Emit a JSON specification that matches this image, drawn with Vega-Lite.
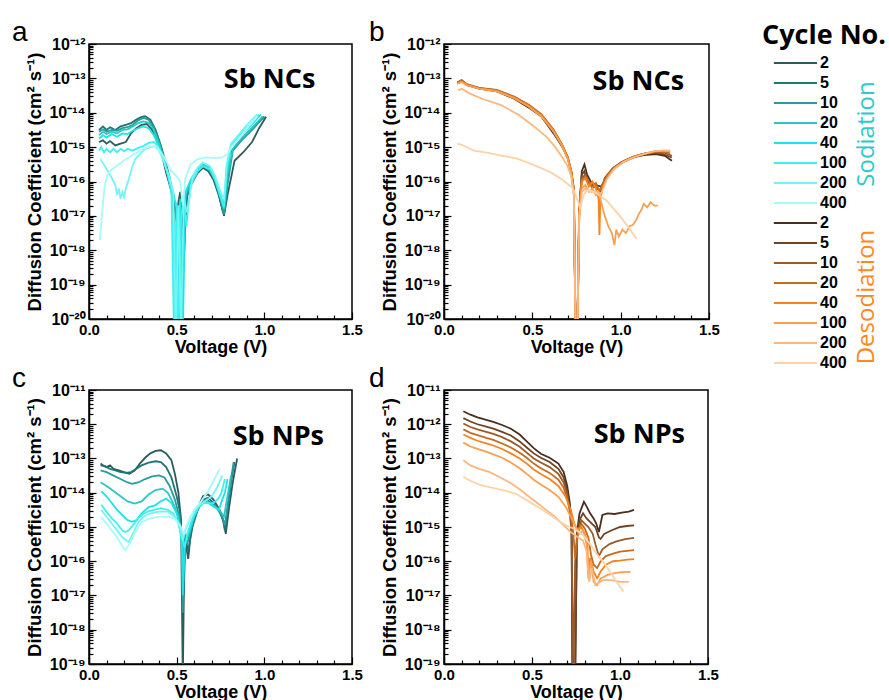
{
"$schema": "https://vega.github.io/schema/vega-lite/v6.json",
"background": "white",
"padding": {"left": 11, "top": 18, "right": 0, "bottom": 0},
"config": {
 "view": {"stroke": "#000", "strokeWidth": 1.5},
 "axis": {"labelFont": "Liberation Sans", "labelFontWeight": "bold", "labelFontSize": 15, "labelColor": "#000", "titleFont": "Liberation Sans", "titleFontWeight": "bold", "titleColor": "#000", "titleFontSize": 18, "tickColor": "#000", "tickWidth": 1.2, "domainColor": "#000", "domainWidth": 1.5, "grid": false, "labelOverlap": false},
 "axisX": {"labelPadding": 10, "titlePadding": -2, "labelFlush": false},
 "axisY": {"labelPadding": 11, "titlePadding": 4, "labelFontSize": 16, "titleFontSize": 18.5},
 "title": {"font": "Liberation Sans", "fontSize": 28, "fontWeight": "normal", "anchor": "start", "frame": "group", "color": "#000", "baseline": "alphabetic", "offset": 3, "dy": 14}
},
"datasets": {
 "a": [
  {"s":"S2","v":0.057,"d":1.41e-15},{"s":"S2","v":0.08,"d":1.58e-15},{"s":"S2","v":0.10,"d":1.26e-15},{"s":"S2","v":0.12,"d":1.5e-15},{"s":"S2","v":0.15,"d":1.12e-15},{"s":"S2","v":0.18,"d":1.26e-15},{"s":"S2","v":0.21,"d":1.41e-15},{"s":"S2","v":0.24,"d":2.51e-15},{"s":"S2","v":0.27,"d":3.55e-15},{"s":"S2","v":0.30,"d":4.47e-15},{"s":"S2","v":0.33,"d":4.7e-15},{"s":"S2","v":0.36,"d":3.16e-15},{"s":"S2","v":0.39,"d":1.41e-15},{"s":"S2","v":0.42,"d":5.0e-16},{"s":"S2","v":0.44,"d":1.78e-16},{"s":"S2","v":0.46,"d":7.9e-17},{"s":"S2","v":0.48,"d":3.16e-17},{"s":"S2","v":0.50,"d":1.26e-17},{"s":"S2","v":0.52,"d":5.0e-17},{"s":"S2","v":0.54,"d":3.16e-19},{"s":"S2","v":0.555,"d":3.16e-17},{"s":"S2","v":0.58,"d":7.9e-17},{"s":"S2","v":0.62,"d":1.78e-16},{"s":"S2","v":0.65,"d":2.51e-16},{"s":"S2","v":0.68,"d":2.0e-16},{"s":"S2","v":0.71,"d":1.12e-16},{"s":"S2","v":0.74,"d":4.0e-17},{"s":"S2","v":0.77,"d":1.0e-17},{"s":"S2","v":0.79,"d":4.0e-17},{"s":"S2","v":0.83,"d":4.0e-16},{"s":"S2","v":0.88,"d":7.1e-16},{"s":"S2","v":0.93,"d":1.41e-15},{"s":"S2","v":0.97,"d":3.55e-15},{"s":"S2","v":1.01,"d":7.6e-15},
  {"s":"S5","v":0.057,"d":3.16e-15},{"s":"S5","v":0.08,"d":4.0e-15},{"s":"S5","v":0.10,"d":3.16e-15},{"s":"S5","v":0.12,"d":3.8e-15},{"s":"S5","v":0.15,"d":3.16e-15},{"s":"S5","v":0.18,"d":4.0e-15},{"s":"S5","v":0.21,"d":4.47e-15},{"s":"S5","v":0.24,"d":5.0e-15},{"s":"S5","v":0.27,"d":6.3e-15},{"s":"S5","v":0.30,"d":7.6e-15},{"s":"S5","v":0.32,"d":7.9e-15},{"s":"S5","v":0.35,"d":6.3e-15},{"s":"S5","v":0.38,"d":3.16e-15},{"s":"S5","v":0.41,"d":1.12e-15},{"s":"S5","v":0.44,"d":3.16e-16},{"s":"S5","v":0.46,"d":1.26e-16},{"s":"S5","v":0.48,"d":4.0e-17},{"s":"S5","v":0.50,"d":6.3e-18},{"s":"S5","v":0.51,"d":3.16e-21},{"s":"S5","v":0.525,"d":2.51e-17},{"s":"S5","v":0.54,"d":1.58e-18},{"s":"S5","v":0.56,"d":4.0e-17},{"s":"S5","v":0.59,"d":1.0e-16},{"s":"S5","v":0.62,"d":2.0e-16},{"s":"S5","v":0.65,"d":2.8e-16},{"s":"S5","v":0.68,"d":2.24e-16},{"s":"S5","v":0.71,"d":1.26e-16},{"s":"S5","v":0.74,"d":4.47e-17},{"s":"S5","v":0.765,"d":1.26e-17},{"s":"S5","v":0.78,"d":2.51e-17},{"s":"S5","v":0.80,"d":6.3e-16},{"s":"S5","v":0.84,"d":1.12e-15},{"s":"S5","v":0.89,"d":2.24e-15},{"s":"S5","v":0.95,"d":4.47e-15},{"s":"S5","v":1.0,"d":7.6e-15},
  {"s":"S10","v":0.057,"d":2.8e-15},{"s":"S10","v":0.08,"d":3.3e-15},{"s":"S10","v":0.10,"d":2.8e-15},{"s":"S10","v":0.13,"d":3.16e-15},{"s":"S10","v":0.16,"d":3.0e-15},{"s":"S10","v":0.19,"d":3.55e-15},{"s":"S10","v":0.22,"d":3.8e-15},{"s":"S10","v":0.25,"d":4.47e-15},{"s":"S10","v":0.28,"d":6.0e-15},{"s":"S10","v":0.31,"d":7.1e-15},{"s":"S10","v":0.34,"d":6.3e-15},{"s":"S10","v":0.37,"d":3.55e-15},{"s":"S10","v":0.40,"d":1.41e-15},{"s":"S10","v":0.43,"d":4.47e-16},{"s":"S10","v":0.46,"d":1.12e-16},{"s":"S10","v":0.48,"d":3.16e-17},{"s":"S10","v":0.495,"d":3.16e-21},{"s":"S10","v":0.51,"d":1.58e-17},{"s":"S10","v":0.53,"d":6.3e-19},{"s":"S10","v":0.55,"d":3.16e-17},{"s":"S10","v":0.58,"d":8.9e-17},{"s":"S10","v":0.62,"d":2.0e-16},{"s":"S10","v":0.65,"d":2.8e-16},{"s":"S10","v":0.69,"d":2.0e-16},{"s":"S10","v":0.72,"d":1.0e-16},{"s":"S10","v":0.75,"d":3.16e-17},{"s":"S10","v":0.77,"d":1.12e-17},{"s":"S10","v":0.79,"d":7.9e-17},{"s":"S10","v":0.82,"d":7.9e-16},{"s":"S10","v":0.87,"d":1.58e-15},{"s":"S10","v":0.93,"d":3.16e-15},{"s":"S10","v":1.0,"d":7.9e-15},
  {"s":"S20","v":0.057,"d":2.24e-15},{"s":"S20","v":0.08,"d":2.8e-15},{"s":"S20","v":0.10,"d":2.4e-15},{"s":"S20","v":0.13,"d":2.8e-15},{"s":"S20","v":0.16,"d":2.51e-15},{"s":"S20","v":0.19,"d":3.16e-15},{"s":"S20","v":0.22,"d":3.3e-15},{"s":"S20","v":0.25,"d":4.0e-15},{"s":"S20","v":0.28,"d":5.0e-15},{"s":"S20","v":0.31,"d":5.6e-15},{"s":"S20","v":0.34,"d":5.2e-15},{"s":"S20","v":0.37,"d":3.16e-15},{"s":"S20","v":0.40,"d":1.26e-15},{"s":"S20","v":0.43,"d":4.0e-16},{"s":"S20","v":0.46,"d":1.0e-16},{"s":"S20","v":0.48,"d":2.51e-17},{"s":"S20","v":0.50,"d":3.16e-21},{"s":"S20","v":0.515,"d":1.0e-17},{"s":"S20","v":0.53,"d":1.0e-19},{"s":"S20","v":0.55,"d":4.0e-17},{"s":"S20","v":0.58,"d":1.0e-16},{"s":"S20","v":0.62,"d":2.24e-16},{"s":"S20","v":0.65,"d":3.16e-16},{"s":"S20","v":0.69,"d":2.24e-16},{"s":"S20","v":0.72,"d":1.12e-16},{"s":"S20","v":0.75,"d":3.55e-17},{"s":"S20","v":0.77,"d":1.58e-17},{"s":"S20","v":0.79,"d":1.58e-16},{"s":"S20","v":0.82,"d":8.9e-16},{"s":"S20","v":0.87,"d":1.78e-15},{"s":"S20","v":0.93,"d":3.55e-15},{"s":"S20","v":0.99,"d":7.9e-15},
  {"s":"S40","v":0.057,"d":1.78e-15},{"s":"S40","v":0.08,"d":2.24e-15},{"s":"S40","v":0.10,"d":1.9e-15},{"s":"S40","v":0.13,"d":2.4e-15},{"s":"S40","v":0.16,"d":2.0e-15},{"s":"S40","v":0.19,"d":2.51e-15},{"s":"S40","v":0.22,"d":2.4e-15},{"s":"S40","v":0.25,"d":3.0e-15},{"s":"S40","v":0.28,"d":3.55e-15},{"s":"S40","v":0.31,"d":4.0e-15},{"s":"S40","v":0.34,"d":3.55e-15},{"s":"S40","v":0.37,"d":2.24e-15},{"s":"S40","v":0.40,"d":1.0e-15},{"s":"S40","v":0.43,"d":3.55e-16},{"s":"S40","v":0.46,"d":1.0e-16},{"s":"S40","v":0.48,"d":5.0e-17},{"s":"S40","v":0.50,"d":1.58e-17},{"s":"S40","v":0.505,"d":3.16e-21},{"s":"S40","v":0.52,"d":3.16e-17},{"s":"S40","v":0.535,"d":3.16e-21},{"s":"S40","v":0.55,"d":5.0e-17},{"s":"S40","v":0.58,"d":1.12e-16},{"s":"S40","v":0.62,"d":2.51e-16},{"s":"S40","v":0.65,"d":3.55e-16},{"s":"S40","v":0.69,"d":2.51e-16},{"s":"S40","v":0.72,"d":1.26e-16},{"s":"S40","v":0.75,"d":4.0e-17},{"s":"S40","v":0.77,"d":2.0e-17},{"s":"S40","v":0.785,"d":1.58e-16},{"s":"S40","v":0.81,"d":1.0e-15},{"s":"S40","v":0.86,"d":2.0e-15},{"s":"S40","v":0.92,"d":4.0e-15},{"s":"S40","v":0.98,"d":8.9e-15},
  {"s":"S100","v":0.057,"d":7.9e-16},{"s":"S100","v":0.07,"d":1.0e-15},{"s":"S100","v":0.085,"d":7.1e-16},{"s":"S100","v":0.10,"d":8.9e-16},{"s":"S100","v":0.12,"d":7.1e-16},{"s":"S100","v":0.14,"d":8.9e-16},{"s":"S100","v":0.16,"d":7.1e-16},{"s":"S100","v":0.18,"d":8.9e-16},{"s":"S100","v":0.20,"d":7.6e-16},{"s":"S100","v":0.22,"d":8.9e-16},{"s":"S100","v":0.25,"d":7.9e-16},{"s":"S100","v":0.28,"d":9.5e-16},{"s":"S100","v":0.31,"d":1.07e-15},{"s":"S100","v":0.34,"d":1.32e-15},{"s":"S100","v":0.37,"d":1.41e-15},{"s":"S100","v":0.39,"d":1.12e-15},{"s":"S100","v":0.42,"d":5.0e-16},{"s":"S100","v":0.45,"d":1.58e-16},{"s":"S100","v":0.47,"d":5.0e-17},{"s":"S100","v":0.485,"d":3.16e-21},{"s":"S100","v":0.50,"d":2.51e-17},{"s":"S100","v":0.51,"d":3.16e-21},{"s":"S100","v":0.525,"d":7.9e-18},{"s":"S100","v":0.54,"d":4.0e-17},{"s":"S100","v":0.555,"d":5.0e-18},{"s":"S100","v":0.58,"d":7.9e-17},{"s":"S100","v":0.62,"d":2.0e-16},{"s":"S100","v":0.65,"d":2.8e-16},{"s":"S100","v":0.69,"d":2.24e-16},{"s":"S100","v":0.72,"d":1.12e-16},{"s":"S100","v":0.75,"d":3.55e-17},{"s":"S100","v":0.77,"d":1.78e-17},{"s":"S100","v":0.785,"d":2.51e-16},{"s":"S100","v":0.81,"d":1.12e-15},{"s":"S100","v":0.86,"d":2.24e-15},{"s":"S100","v":0.92,"d":4.47e-15},{"s":"S100","v":0.97,"d":8.9e-15},
  {"s":"S200","v":0.066,"d":4.47e-16},{"s":"S200","v":0.09,"d":2.8e-16},{"s":"S200","v":0.113,"d":1.78e-16},{"s":"S200","v":0.13,"d":1.26e-16},{"s":"S200","v":0.15,"d":7.9e-17},{"s":"S200","v":0.16,"d":4.0e-17},{"s":"S200","v":0.17,"d":6.3e-17},{"s":"S200","v":0.18,"d":3.16e-17},{"s":"S200","v":0.19,"d":5.0e-17},{"s":"S200","v":0.20,"d":3.55e-17},{"s":"S200","v":0.21,"d":6.3e-17},{"s":"S200","v":0.226,"d":1.12e-16},{"s":"S200","v":0.245,"d":2.51e-16},{"s":"S200","v":0.264,"d":4.5e-16},{"s":"S200","v":0.29,"d":6.3e-16},{"s":"S200","v":0.32,"d":8.9e-16},{"s":"S200","v":0.35,"d":1.0e-15},{"s":"S200","v":0.377,"d":1.07e-15},{"s":"S200","v":0.40,"d":7.9e-16},{"s":"S200","v":0.43,"d":3.55e-16},{"s":"S200","v":0.46,"d":1.26e-16},{"s":"S200","v":0.48,"d":5.0e-17},{"s":"S200","v":0.495,"d":3.16e-21},{"s":"S200","v":0.51,"d":2.0e-17},{"s":"S200","v":0.525,"d":3.16e-21},{"s":"S200","v":0.54,"d":3.16e-17},{"s":"S200","v":0.56,"d":1.26e-17},{"s":"S200","v":0.59,"d":1.26e-16},{"s":"S200","v":0.62,"d":2.51e-16},{"s":"S200","v":0.65,"d":3.55e-16},{"s":"S200","v":0.69,"d":2.8e-16},{"s":"S200","v":0.72,"d":1.41e-16},{"s":"S200","v":0.75,"d":5.0e-17},{"s":"S200","v":0.77,"d":3.16e-17},{"s":"S200","v":0.785,"d":3.16e-16},{"s":"S200","v":0.81,"d":1.26e-15},{"s":"S200","v":0.86,"d":2.51e-15},{"s":"S200","v":0.91,"d":5.0e-15},{"s":"S200","v":0.96,"d":8.9e-15},
  {"s":"S400","v":0.062,"d":2.0e-18},{"s":"S400","v":0.07,"d":6.3e-18},{"s":"S400","v":0.08,"d":2.51e-17},{"s":"S400","v":0.09,"d":7.9e-17},{"s":"S400","v":0.105,"d":1.58e-16},{"s":"S400","v":0.13,"d":2.24e-16},{"s":"S400","v":0.17,"d":3.16e-16},{"s":"S400","v":0.21,"d":4.47e-16},{"s":"S400","v":0.26,"d":6.3e-16},{"s":"S400","v":0.31,"d":8.9e-16},{"s":"S400","v":0.35,"d":1.07e-15},{"s":"S400","v":0.39,"d":1.0e-15},{"s":"S400","v":0.43,"d":5.0e-16},{"s":"S400","v":0.47,"d":2.0e-16},{"s":"S400","v":0.50,"d":1.41e-16},{"s":"S400","v":0.52,"d":1.0e-16},{"s":"S400","v":0.535,"d":2.0e-17},{"s":"S400","v":0.55,"d":1.26e-16},{"s":"S400","v":0.58,"d":3.16e-16},{"s":"S400","v":0.62,"d":4.47e-16},{"s":"S400","v":0.67,"d":5.0e-16},{"s":"S400","v":0.72,"d":4.8e-16},{"s":"S400","v":0.76,"d":5.0e-16},{"s":"S400","v":0.79,"d":6.3e-16},{"s":"S400","v":0.82,"d":1.12e-15},{"s":"S400","v":0.87,"d":2.24e-15},{"s":"S400","v":0.92,"d":4.47e-15},{"s":"S400","v":0.96,"d":7.9e-15}
 ],
 "b": [
  {"s":"D2","v":0.075,"d":7.1e-14},{"s":"D2","v":0.10,"d":8.3e-14},{"s":"D2","v":0.13,"d":6.3e-14},{"s":"D2","v":0.20,"d":5.0e-14},{"s":"D2","v":0.30,"d":4.2e-14},{"s":"D2","v":0.40,"d":2.51e-14},{"s":"D2","v":0.48,"d":1.41e-14},{"s":"D2","v":0.55,"d":7.9e-15},{"s":"D2","v":0.62,"d":2.51e-15},{"s":"D2","v":0.67,"d":1.0e-15},{"s":"D2","v":0.70,"d":5.0e-16},{"s":"D2","v":0.72,"d":2.0e-16},{"s":"D2","v":0.735,"d":6.3e-17},{"s":"D2","v":0.745,"d":3.16e-21},{"s":"D2","v":0.755,"d":3.16e-21},{"s":"D2","v":0.765,"d":1.0e-17},{"s":"D2","v":0.78,"d":2.0e-16},{"s":"D2","v":0.795,"d":3.16e-16},{"s":"D2","v":0.81,"d":1.58e-16},{"s":"D2","v":0.83,"d":1.0e-16},{"s":"D2","v":0.86,"d":7.9e-17},{"s":"D2","v":0.89,"d":7.1e-17},{"s":"D2","v":0.92,"d":1.41e-16},{"s":"D2","v":0.96,"d":2.51e-16},{"s":"D2","v":1.01,"d":3.7e-16},{"s":"D2","v":1.07,"d":5.0e-16},{"s":"D2","v":1.13,"d":5.9e-16},{"s":"D2","v":1.2,"d":6.3e-16},{"s":"D2","v":1.25,"d":5.6e-16},{"s":"D2","v":1.29,"d":4.0e-16},
  {"s":"D5","v":0.075,"d":7.6e-14},{"s":"D5","v":0.10,"d":8.9e-14},{"s":"D5","v":0.13,"d":6.6e-14},{"s":"D5","v":0.20,"d":5.2e-14},{"s":"D5","v":0.30,"d":4.47e-14},{"s":"D5","v":0.40,"d":2.8e-14},{"s":"D5","v":0.48,"d":1.66e-14},{"s":"D5","v":0.55,"d":8.9e-15},{"s":"D5","v":0.62,"d":3.16e-15},{"s":"D5","v":0.67,"d":1.12e-15},{"s":"D5","v":0.70,"d":5.0e-16},{"s":"D5","v":0.72,"d":2.0e-16},{"s":"D5","v":0.735,"d":5.0e-17},{"s":"D5","v":0.745,"d":3.16e-21},{"s":"D5","v":0.755,"d":3.16e-21},{"s":"D5","v":0.765,"d":1.58e-17},{"s":"D5","v":0.78,"d":1.58e-16},{"s":"D5","v":0.795,"d":2.0e-16},{"s":"D5","v":0.81,"d":1.0e-16},{"s":"D5","v":0.84,"d":7.9e-17},{"s":"D5","v":0.87,"d":6.3e-17},{"s":"D5","v":0.89,"d":5.0e-17},{"s":"D5","v":0.91,"d":1.26e-16},{"s":"D5","v":0.95,"d":2.24e-16},{"s":"D5","v":1.0,"d":3.55e-16},{"s":"D5","v":1.06,"d":5.0e-16},{"s":"D5","v":1.12,"d":6.3e-16},{"s":"D5","v":1.18,"d":7.1e-16},{"s":"D5","v":1.24,"d":6.3e-16},{"s":"D5","v":1.29,"d":5.0e-16},
  {"s":"D10","v":0.075,"d":7.2e-14},{"s":"D10","v":0.10,"d":8.5e-14},{"s":"D10","v":0.13,"d":6.5e-14},{"s":"D10","v":0.20,"d":5.1e-14},{"s":"D10","v":0.30,"d":4.4e-14},{"s":"D10","v":0.40,"d":2.75e-14},{"s":"D10","v":0.48,"d":1.58e-14},{"s":"D10","v":0.55,"d":8.3e-15},{"s":"D10","v":0.62,"d":3.0e-15},{"s":"D10","v":0.67,"d":1.07e-15},{"s":"D10","v":0.70,"d":4.8e-16},{"s":"D10","v":0.72,"d":1.9e-16},{"s":"D10","v":0.735,"d":5.0e-17},{"s":"D10","v":0.745,"d":3.16e-21},{"s":"D10","v":0.755,"d":3.16e-21},{"s":"D10","v":0.765,"d":1.26e-17},{"s":"D10","v":0.78,"d":1.26e-16},{"s":"D10","v":0.80,"d":1.58e-16},{"s":"D10","v":0.82,"d":8.9e-17},{"s":"D10","v":0.85,"d":7.1e-17},{"s":"D10","v":0.88,"d":5.6e-17},{"s":"D10","v":0.90,"d":7.9e-17},{"s":"D10","v":0.93,"d":1.58e-16},{"s":"D10","v":0.97,"d":2.51e-16},{"s":"D10","v":1.02,"d":3.8e-16},{"s":"D10","v":1.08,"d":5.2e-16},{"s":"D10","v":1.14,"d":6.3e-16},{"s":"D10","v":1.2,"d":7.1e-16},{"s":"D10","v":1.25,"d":6.8e-16},{"s":"D10","v":1.29,"d":5.6e-16},
  {"s":"D20","v":0.075,"d":7.4e-14},{"s":"D20","v":0.10,"d":8.7e-14},{"s":"D20","v":0.13,"d":6.8e-14},{"s":"D20","v":0.20,"d":5.3e-14},{"s":"D20","v":0.30,"d":4.6e-14},{"s":"D20","v":0.40,"d":2.9e-14},{"s":"D20","v":0.48,"d":1.7e-14},{"s":"D20","v":0.55,"d":9.1e-15},{"s":"D20","v":0.62,"d":3.2e-15},{"s":"D20","v":0.67,"d":1.15e-15},{"s":"D20","v":0.70,"d":5.2e-16},{"s":"D20","v":0.72,"d":2.1e-16},{"s":"D20","v":0.735,"d":5.6e-17},{"s":"D20","v":0.745,"d":3.16e-21},{"s":"D20","v":0.755,"d":3.16e-21},{"s":"D20","v":0.765,"d":1.4e-17},{"s":"D20","v":0.78,"d":1.1e-16},{"s":"D20","v":0.80,"d":1.4e-16},{"s":"D20","v":0.82,"d":1.0e-16},{"s":"D20","v":0.84,"d":6.3e-17},{"s":"D20","v":0.86,"d":8.9e-17},{"s":"D20","v":0.88,"d":5.0e-17},{"s":"D20","v":0.90,"d":8.9e-17},{"s":"D20","v":0.93,"d":1.7e-16},{"s":"D20","v":0.97,"d":2.7e-16},{"s":"D20","v":1.02,"d":4.0e-16},{"s":"D20","v":1.08,"d":5.5e-16},{"s":"D20","v":1.14,"d":6.6e-16},{"s":"D20","v":1.2,"d":7.4e-16},{"s":"D20","v":1.25,"d":7.2e-16},{"s":"D20","v":1.28,"d":6.6e-16},
  {"s":"D40","v":0.075,"d":7.0e-14},{"s":"D40","v":0.10,"d":8.1e-14},{"s":"D40","v":0.13,"d":6.4e-14},{"s":"D40","v":0.20,"d":5.0e-14},{"s":"D40","v":0.30,"d":4.3e-14},{"s":"D40","v":0.40,"d":2.7e-14},{"s":"D40","v":0.48,"d":1.6e-14},{"s":"D40","v":0.55,"d":8.5e-15},{"s":"D40","v":0.62,"d":3.0e-15},{"s":"D40","v":0.67,"d":1.1e-15},{"s":"D40","v":0.70,"d":5.0e-16},{"s":"D40","v":0.72,"d":2.0e-16},{"s":"D40","v":0.735,"d":5.0e-17},{"s":"D40","v":0.745,"d":3.16e-21},{"s":"D40","v":0.755,"d":3.16e-21},{"s":"D40","v":0.765,"d":1.2e-17},{"s":"D40","v":0.78,"d":1.0e-16},{"s":"D40","v":0.80,"d":1.26e-16},{"s":"D40","v":0.82,"d":7.1e-17},{"s":"D40","v":0.84,"d":1.0e-16},{"s":"D40","v":0.86,"d":6.3e-17},{"s":"D40","v":0.875,"d":3.16e-17},{"s":"D40","v":0.88,"d":2.8e-18},{"s":"D40","v":0.885,"d":3.16e-17},{"s":"D40","v":0.90,"d":7.1e-17},{"s":"D40","v":0.93,"d":1.5e-16},{"s":"D40","v":0.97,"d":2.6e-16},{"s":"D40","v":1.02,"d":3.9e-16},{"s":"D40","v":1.08,"d":5.4e-16},{"s":"D40","v":1.14,"d":6.5e-16},{"s":"D40","v":1.2,"d":7.6e-16},{"s":"D40","v":1.25,"d":7.9e-16},{"s":"D40","v":1.28,"d":7.6e-16},
  {"s":"D100","v":0.075,"d":7.1e-14},{"s":"D100","v":0.10,"d":7.9e-14},{"s":"D100","v":0.13,"d":6.3e-14},{"s":"D100","v":0.20,"d":5.0e-14},{"s":"D100","v":0.30,"d":4.2e-14},{"s":"D100","v":0.40,"d":2.6e-14},{"s":"D100","v":0.48,"d":1.5e-14},{"s":"D100","v":0.55,"d":7.9e-15},{"s":"D100","v":0.62,"d":2.8e-15},{"s":"D100","v":0.67,"d":1.05e-15},{"s":"D100","v":0.70,"d":4.47e-16},{"s":"D100","v":0.72,"d":1.78e-16},{"s":"D100","v":0.735,"d":4.0e-17},{"s":"D100","v":0.745,"d":3.16e-21},{"s":"D100","v":0.755,"d":3.16e-21},{"s":"D100","v":0.765,"d":6.3e-18},{"s":"D100","v":0.78,"d":6.3e-17},{"s":"D100","v":0.80,"d":7.9e-17},{"s":"D100","v":0.82,"d":5.0e-17},{"s":"D100","v":0.84,"d":6.3e-17},{"s":"D100","v":0.86,"d":4.0e-17},{"s":"D100","v":0.875,"d":5.0e-17},{"s":"D100","v":0.89,"d":2.51e-17},{"s":"D100","v":0.91,"d":1.0e-17},{"s":"D100","v":0.93,"d":5.0e-18},{"s":"D100","v":0.95,"d":3.16e-18},{"s":"D100","v":0.965,"d":1.41e-18},{"s":"D100","v":0.975,"d":4.0e-18},{"s":"D100","v":0.99,"d":2.51e-18},{"s":"D100","v":1.01,"d":4.0e-18},{"s":"D100","v":1.03,"d":3.16e-18},{"s":"D100","v":1.05,"d":5.0e-18},{"s":"D100","v":1.07,"d":5.5e-18},{"s":"D100","v":1.09,"d":7.9e-18},{"s":"D100","v":1.1,"d":1.07e-17},{"s":"D100","v":1.12,"d":1.58e-17},{"s":"D100","v":1.13,"d":2.24e-17},{"s":"D100","v":1.15,"d":1.78e-17},{"s":"D100","v":1.17,"d":2.51e-17},{"s":"D100","v":1.19,"d":2.0e-17},{"s":"D100","v":1.21,"d":2.0e-17},
  {"s":"D200","v":0.08,"d":4.47e-14},{"s":"D200","v":0.10,"d":5.0e-14},{"s":"D200","v":0.15,"d":3.55e-14},{"s":"D200","v":0.22,"d":2.51e-14},{"s":"D200","v":0.32,"d":1.7e-14},{"s":"D200","v":0.42,"d":8.9e-15},{"s":"D200","v":0.51,"d":4.0e-15},{"s":"D200","v":0.58,"d":2.0e-15},{"s":"D200","v":0.63,"d":1.0e-15},{"s":"D200","v":0.67,"d":5.0e-16},{"s":"D200","v":0.70,"d":2.8e-16},{"s":"D200","v":0.72,"d":1.41e-16},{"s":"D200","v":0.735,"d":4.0e-17},{"s":"D200","v":0.745,"d":3.16e-21},{"s":"D200","v":0.755,"d":3.16e-21},{"s":"D200","v":0.765,"d":1.0e-17},{"s":"D200","v":0.78,"d":5.0e-17},{"s":"D200","v":0.80,"d":6.3e-17},{"s":"D200","v":0.83,"d":5.0e-17},{"s":"D200","v":0.86,"d":5.0e-17},{"s":"D200","v":0.89,"d":4.47e-17},{"s":"D200","v":0.92,"d":1.12e-16},{"s":"D200","v":0.96,"d":2.24e-16},{"s":"D200","v":1.01,"d":3.55e-16},{"s":"D200","v":1.07,"d":5.0e-16},{"s":"D200","v":1.13,"d":6.3e-16},{"s":"D200","v":1.19,"d":7.6e-16},{"s":"D200","v":1.24,"d":7.9e-16},{"s":"D200","v":1.28,"d":7.9e-16},
  {"s":"D400","v":0.075,"d":1.26e-15},{"s":"D400","v":0.10,"d":1.17e-15},{"s":"D400","v":0.17,"d":7.9e-16},{"s":"D400","v":0.25,"d":6.8e-16},{"s":"D400","v":0.33,"d":5.6e-16},{"s":"D400","v":0.41,"d":4.7e-16},{"s":"D400","v":0.5,"d":3.16e-16},{"s":"D400","v":0.6,"d":1.9e-16},{"s":"D400","v":0.67,"d":1.12e-16},{"s":"D400","v":0.73,"d":6.3e-17},{"s":"D400","v":0.76,"d":2.51e-17},{"s":"D400","v":0.77,"d":1.58e-17},{"s":"D400","v":0.79,"d":4.0e-17},{"s":"D400","v":0.81,"d":5.6e-17},{"s":"D400","v":0.85,"d":5.0e-17},{"s":"D400","v":0.92,"d":2.8e-17},{"s":"D400","v":0.99,"d":1.07e-17},{"s":"D400","v":1.04,"d":5.0e-18},{"s":"D400","v":1.09,"d":2.14e-18}
 ],
 "c": [
  {"s":"S2","v":0.066,"d":7.1e-14},{"s":"S2","v":0.08,"d":6.3e-14},{"s":"S2","v":0.10,"d":5.6e-14},{"s":"S2","v":0.12,"d":6.3e-14},{"s":"S2","v":0.14,"d":5.0e-14},{"s":"S2","v":0.17,"d":4.47e-14},{"s":"S2","v":0.20,"d":4.0e-14},{"s":"S2","v":0.23,"d":3.6e-14},{"s":"S2","v":0.26,"d":4.47e-14},{"s":"S2","v":0.29,"d":7.1e-14},{"s":"S2","v":0.32,"d":1.05e-13},{"s":"S2","v":0.35,"d":1.41e-13},{"s":"S2","v":0.38,"d":1.66e-13},{"s":"S2","v":0.41,"d":1.74e-13},{"s":"S2","v":0.44,"d":1.41e-13},{"s":"S2","v":0.47,"d":8.9e-14},{"s":"S2","v":0.49,"d":3.55e-14},{"s":"S2","v":0.51,"d":1.0e-14},{"s":"S2","v":0.525,"d":1.58e-15},{"s":"S2","v":0.535,"d":3.16e-20},{"s":"S2","v":0.545,"d":6.3e-16},{"s":"S2","v":0.555,"d":2.51e-16},{"s":"S2","v":0.566,"d":1.17e-16},{"s":"S2","v":0.58,"d":6.3e-16},{"s":"S2","v":0.60,"d":2.0e-15},{"s":"S2","v":0.62,"d":3.55e-15},{"s":"S2","v":0.65,"d":7.9e-15},{"s":"S2","v":0.68,"d":8.9e-15},{"s":"S2","v":0.71,"d":6.3e-15},{"s":"S2","v":0.745,"d":3.16e-15},{"s":"S2","v":0.77,"d":1.26e-15},{"s":"S2","v":0.78,"d":6.3e-16},{"s":"S2","v":0.80,"d":4.0e-15},{"s":"S2","v":0.82,"d":2.0e-14},{"s":"S2","v":0.845,"d":1.0e-13},
  {"s":"S5","v":0.066,"d":6.3e-14},{"s":"S5","v":0.09,"d":6.0e-14},{"s":"S5","v":0.12,"d":5.0e-14},{"s":"S5","v":0.15,"d":4.47e-14},{"s":"S5","v":0.18,"d":4.0e-14},{"s":"S5","v":0.21,"d":3.8e-14},{"s":"S5","v":0.24,"d":4.0e-14},{"s":"S5","v":0.27,"d":5.0e-14},{"s":"S5","v":0.30,"d":6.3e-14},{"s":"S5","v":0.34,"d":7.6e-14},{"s":"S5","v":0.38,"d":8.3e-14},{"s":"S5","v":0.41,"d":7.9e-14},{"s":"S5","v":0.44,"d":5.6e-14},{"s":"S5","v":0.47,"d":2.8e-14},{"s":"S5","v":0.50,"d":7.9e-15},{"s":"S5","v":0.52,"d":2.51e-15},{"s":"S5","v":0.53,"d":4.0e-16},{"s":"S5","v":0.54,"d":1.0e-17},{"s":"S5","v":0.55,"d":5.0e-16},{"s":"S5","v":0.565,"d":2.0e-16},{"s":"S5","v":0.59,"d":1.0e-15},{"s":"S5","v":0.62,"d":3.16e-15},{"s":"S5","v":0.65,"d":6.3e-15},{"s":"S5","v":0.68,"d":7.1e-15},{"s":"S5","v":0.71,"d":5.0e-15},{"s":"S5","v":0.74,"d":3.16e-15},{"s":"S5","v":0.765,"d":1.58e-15},{"s":"S5","v":0.775,"d":7.9e-16},{"s":"S5","v":0.79,"d":3.16e-15},{"s":"S5","v":0.81,"d":2.0e-14},{"s":"S5","v":0.83,"d":7.9e-14},
  {"s":"S10","v":0.066,"d":4.47e-14},{"s":"S10","v":0.10,"d":4.0e-14},{"s":"S10","v":0.14,"d":3.16e-14},{"s":"S10","v":0.18,"d":2.51e-14},{"s":"S10","v":0.22,"d":2.0e-14},{"s":"S10","v":0.245,"d":1.82e-14},{"s":"S10","v":0.28,"d":2.0e-14},{"s":"S10","v":0.32,"d":2.51e-14},{"s":"S10","v":0.36,"d":3.0e-14},{"s":"S10","v":0.40,"d":3.2e-14},{"s":"S10","v":0.43,"d":2.8e-14},{"s":"S10","v":0.46,"d":1.58e-14},{"s":"S10","v":0.49,"d":6.3e-15},{"s":"S10","v":0.515,"d":2.0e-15},{"s":"S10","v":0.53,"d":5.0e-16},{"s":"S10","v":0.535,"d":3.16e-18},{"s":"S10","v":0.545,"d":6.3e-16},{"s":"S10","v":0.56,"d":3.16e-16},{"s":"S10","v":0.58,"d":7.9e-16},{"s":"S10","v":0.61,"d":2.51e-15},{"s":"S10","v":0.64,"d":5.0e-15},{"s":"S10","v":0.67,"d":6.3e-15},{"s":"S10","v":0.70,"d":5.0e-15},{"s":"S10","v":0.73,"d":3.55e-15},{"s":"S10","v":0.76,"d":2.0e-15},{"s":"S10","v":0.775,"d":1.12e-15},{"s":"S10","v":0.79,"d":4.0e-15},{"s":"S10","v":0.81,"d":2.51e-14},{"s":"S10","v":0.825,"d":7.9e-14},
  {"s":"S20","v":0.066,"d":2.04e-14},{"s":"S20","v":0.10,"d":1.58e-14},{"s":"S20","v":0.14,"d":1.12e-14},{"s":"S20","v":0.18,"d":7.9e-15},{"s":"S20","v":0.22,"d":5.6e-15},{"s":"S20","v":0.26,"d":4.8e-15},{"s":"S20","v":0.30,"d":5.6e-15},{"s":"S20","v":0.34,"d":8.9e-15},{"s":"S20","v":0.38,"d":1.2e-14},{"s":"S20","v":0.42,"d":1.32e-14},{"s":"S20","v":0.45,"d":1.0e-14},{"s":"S20","v":0.48,"d":5.0e-15},{"s":"S20","v":0.51,"d":2.0e-15},{"s":"S20","v":0.53,"d":4.0e-16},{"s":"S20","v":0.54,"d":5.0e-17},{"s":"S20","v":0.55,"d":4.0e-16},{"s":"S20","v":0.57,"d":6.3e-16},{"s":"S20","v":0.60,"d":2.0e-15},{"s":"S20","v":0.63,"d":4.0e-15},{"s":"S20","v":0.66,"d":5.6e-15},{"s":"S20","v":0.69,"d":5.0e-15},{"s":"S20","v":0.72,"d":4.0e-15},{"s":"S20","v":0.75,"d":2.8e-15},{"s":"S20","v":0.77,"d":2.0e-15},{"s":"S20","v":0.79,"d":7.9e-15},{"s":"S20","v":0.81,"d":3.16e-14},
  {"s":"S40","v":0.07,"d":1.1e-14},{"s":"S40","v":0.10,"d":7.9e-15},{"s":"S40","v":0.13,"d":5.0e-15},{"s":"S40","v":0.16,"d":3.16e-15},{"s":"S40","v":0.19,"d":2.24e-15},{"s":"S40","v":0.22,"d":1.58e-15},{"s":"S40","v":0.245,"d":1.41e-15},{"s":"S40","v":0.27,"d":1.58e-15},{"s":"S40","v":0.30,"d":2.51e-15},{"s":"S40","v":0.34,"d":3.8e-15},{"s":"S40","v":0.377,"d":4.3e-15},{"s":"S40","v":0.41,"d":5.6e-15},{"s":"S40","v":0.44,"d":6.8e-15},{"s":"S40","v":0.47,"d":5.0e-15},{"s":"S40","v":0.50,"d":2.51e-15},{"s":"S40","v":0.52,"d":7.9e-16},{"s":"S40","v":0.53,"d":2.51e-16},{"s":"S40","v":0.535,"d":1.0e-17},{"s":"S40","v":0.545,"d":3.16e-16},{"s":"S40","v":0.56,"d":5.0e-16},{"s":"S40","v":0.59,"d":1.58e-15},{"s":"S40","v":0.62,"d":3.55e-15},{"s":"S40","v":0.65,"d":5.0e-15},{"s":"S40","v":0.68,"d":5.0e-15},{"s":"S40","v":0.71,"d":4.0e-15},{"s":"S40","v":0.74,"d":3.16e-15},{"s":"S40","v":0.76,"d":6.3e-15},{"s":"S40","v":0.775,"d":1.0e-14},{"s":"S40","v":0.79,"d":2.51e-14},
  {"s":"S100","v":0.07,"d":4.47e-15},{"s":"S100","v":0.10,"d":2.8e-15},{"s":"S100","v":0.13,"d":1.78e-15},{"s":"S100","v":0.16,"d":1.26e-15},{"s":"S100","v":0.19,"d":7.9e-16},{"s":"S100","v":0.207,"d":7.1e-16},{"s":"S100","v":0.225,"d":7.9e-16},{"s":"S100","v":0.25,"d":1.12e-15},{"s":"S100","v":0.28,"d":1.78e-15},{"s":"S100","v":0.31,"d":2.4e-15},{"s":"S100","v":0.33,"d":2.75e-15},{"s":"S100","v":0.37,"d":3.16e-15},{"s":"S100","v":0.41,"d":3.55e-15},{"s":"S100","v":0.45,"d":3.16e-15},{"s":"S100","v":0.48,"d":2.51e-15},{"s":"S100","v":0.51,"d":1.26e-15},{"s":"S100","v":0.53,"d":5.0e-16},{"s":"S100","v":0.545,"d":2.51e-16},{"s":"S100","v":0.56,"d":6.3e-16},{"s":"S100","v":0.59,"d":1.78e-15},{"s":"S100","v":0.62,"d":3.55e-15},{"s":"S100","v":0.65,"d":5.0e-15},{"s":"S100","v":0.68,"d":5.0e-15},{"s":"S100","v":0.71,"d":5.0e-15},{"s":"S100","v":0.74,"d":7.1e-15},{"s":"S100","v":0.755,"d":1.0e-14},{"s":"S100","v":0.765,"d":1.58e-14},{"s":"S100","v":0.775,"d":2.51e-14},
  {"s":"S200","v":0.07,"d":3.16e-15},{"s":"S200","v":0.10,"d":2.0e-15},{"s":"S200","v":0.13,"d":1.26e-15},{"s":"S200","v":0.16,"d":7.9e-16},{"s":"S200","v":0.19,"d":5.0e-16},{"s":"S200","v":0.226,"d":3.6e-16},{"s":"S200","v":0.25,"d":6.3e-16},{"s":"S200","v":0.283,"d":1.41e-15},{"s":"S200","v":0.31,"d":2.0e-15},{"s":"S200","v":0.35,"d":2.51e-15},{"s":"S200","v":0.40,"d":2.8e-15},{"s":"S200","v":0.45,"d":2.8e-15},{"s":"S200","v":0.49,"d":2.0e-15},{"s":"S200","v":0.52,"d":1.0e-15},{"s":"S200","v":0.535,"d":4.0e-16},{"s":"S200","v":0.55,"d":7.9e-16},{"s":"S200","v":0.58,"d":2.0e-15},{"s":"S200","v":0.62,"d":4.0e-15},{"s":"S200","v":0.66,"d":5.6e-15},{"s":"S200","v":0.70,"d":7.9e-15},{"s":"S200","v":0.73,"d":1.41e-14},{"s":"S200","v":0.76,"d":3.16e-14},
  {"s":"S400","v":0.07,"d":1.95e-15},{"s":"S400","v":0.10,"d":1.26e-15},{"s":"S400","v":0.13,"d":7.9e-16},{"s":"S400","v":0.16,"d":5.0e-16},{"s":"S400","v":0.19,"d":2.8e-16},{"s":"S400","v":0.207,"d":2.1e-16},{"s":"S400","v":0.23,"d":3.16e-16},{"s":"S400","v":0.26,"d":6.3e-16},{"s":"S400","v":0.30,"d":1.41e-15},{"s":"S400","v":0.35,"d":1.78e-15},{"s":"S400","v":0.40,"d":2.0e-15},{"s":"S400","v":0.45,"d":2.0e-15},{"s":"S400","v":0.49,"d":1.78e-15},{"s":"S400","v":0.52,"d":1.12e-15},{"s":"S400","v":0.54,"d":6.3e-16},{"s":"S400","v":0.56,"d":1.26e-15},{"s":"S400","v":0.60,"d":3.16e-15},{"s":"S400","v":0.64,"d":5.6e-15},{"s":"S400","v":0.68,"d":1.12e-14},{"s":"S400","v":0.71,"d":2.24e-14},{"s":"S400","v":0.745,"d":5.0e-14}
 ],
 "d": [
  {"s":"D2","v":0.11,"d":2.4e-12},{"s":"D2","v":0.15,"d":1.9e-12},{"s":"D2","v":0.19,"d":1.58e-12},{"s":"D2","v":0.24,"d":1.35e-12},{"s":"D2","v":0.28,"d":1.17e-12},{"s":"D2","v":0.33,"d":9.5e-13},{"s":"D2","v":0.38,"d":7.4e-13},{"s":"D2","v":0.43,"d":5.0e-13},{"s":"D2","v":0.47,"d":3.16e-13},{"s":"D2","v":0.51,"d":2.0e-13},{"s":"D2","v":0.55,"d":1.38e-13},{"s":"D2","v":0.60,"d":1.05e-13},{"s":"D2","v":0.65,"d":7.1e-14},{"s":"D2","v":0.68,"d":4.0e-14},{"s":"D2","v":0.70,"d":1.58e-14},{"s":"D2","v":0.715,"d":5.0e-15},{"s":"D2","v":0.725,"d":1.0e-15},{"s":"D2","v":0.73,"d":3.16e-20},{"s":"D2","v":0.745,"d":3.16e-20},{"s":"D2","v":0.755,"d":6.3e-16},{"s":"D2","v":0.77,"d":2.51e-15},{"s":"D2","v":0.795,"d":5.4e-15},{"s":"D2","v":0.81,"d":4.0e-15},{"s":"D2","v":0.83,"d":2.51e-15},{"s":"D2","v":0.85,"d":1.78e-15},{"s":"D2","v":0.865,"d":1.26e-15},{"s":"D2","v":0.88,"d":7.1e-16},{"s":"D2","v":0.90,"d":2.24e-15},{"s":"D2","v":0.93,"d":2.51e-15},{"s":"D2","v":0.97,"d":2.4e-15},{"s":"D2","v":1.01,"d":2.63e-15},{"s":"D2","v":1.05,"d":2.8e-15},{"s":"D2","v":1.08,"d":3.16e-15},
  {"s":"D5","v":0.11,"d":1.51e-12},{"s":"D5","v":0.15,"d":1.2e-12},{"s":"D5","v":0.19,"d":1.0e-12},{"s":"D5","v":0.24,"d":8.5e-13},{"s":"D5","v":0.28,"d":7.4e-13},{"s":"D5","v":0.33,"d":6.0e-13},{"s":"D5","v":0.38,"d":4.7e-13},{"s":"D5","v":0.43,"d":3.16e-13},{"s":"D5","v":0.47,"d":2.1e-13},{"s":"D5","v":0.51,"d":1.41e-13},{"s":"D5","v":0.55,"d":1.05e-13},{"s":"D5","v":0.60,"d":7.9e-14},{"s":"D5","v":0.65,"d":5.0e-14},{"s":"D5","v":0.68,"d":2.8e-14},{"s":"D5","v":0.70,"d":1.12e-14},{"s":"D5","v":0.715,"d":3.55e-15},{"s":"D5","v":0.725,"d":7.9e-16},{"s":"D5","v":0.73,"d":3.16e-20},{"s":"D5","v":0.745,"d":3.16e-20},{"s":"D5","v":0.755,"d":5.0e-16},{"s":"D5","v":0.77,"d":1.58e-15},{"s":"D5","v":0.79,"d":2.51e-15},{"s":"D5","v":0.81,"d":1.78e-15},{"s":"D5","v":0.83,"d":1.41e-15},{"s":"D5","v":0.86,"d":1.0e-15},{"s":"D5","v":0.88,"d":5.0e-16},{"s":"D5","v":0.89,"d":4.47e-16},{"s":"D5","v":0.91,"d":6.3e-16},{"s":"D5","v":0.95,"d":7.9e-16},{"s":"D5","v":1.0,"d":1.0e-15},{"s":"D5","v":1.04,"d":1.07e-15},{"s":"D5","v":1.08,"d":1.12e-15},
  {"s":"D10","v":0.11,"d":1.05e-12},{"s":"D10","v":0.15,"d":8.3e-13},{"s":"D10","v":0.19,"d":7.1e-13},{"s":"D10","v":0.24,"d":6.0e-13},{"s":"D10","v":0.28,"d":5.2e-13},{"s":"D10","v":0.33,"d":4.2e-13},{"s":"D10","v":0.38,"d":3.16e-13},{"s":"D10","v":0.43,"d":2.2e-13},{"s":"D10","v":0.47,"d":1.48e-13},{"s":"D10","v":0.51,"d":1.0e-13},{"s":"D10","v":0.55,"d":7.6e-14},{"s":"D10","v":0.60,"d":5.6e-14},{"s":"D10","v":0.65,"d":3.55e-14},{"s":"D10","v":0.68,"d":2.0e-14},{"s":"D10","v":0.70,"d":8.9e-15},{"s":"D10","v":0.715,"d":2.8e-15},{"s":"D10","v":0.725,"d":6.3e-16},{"s":"D10","v":0.735,"d":3.16e-20},{"s":"D10","v":0.745,"d":1.0e-16},{"s":"D10","v":0.76,"d":6.3e-16},{"s":"D10","v":0.78,"d":1.58e-15},{"s":"D10","v":0.80,"d":1.26e-15},{"s":"D10","v":0.82,"d":1.0e-15},{"s":"D10","v":0.845,"d":6.3e-16},{"s":"D10","v":0.86,"d":3.16e-16},{"s":"D10","v":0.88,"d":1.41e-16},{"s":"D10","v":0.90,"d":2.24e-16},{"s":"D10","v":0.94,"d":3.16e-16},{"s":"D10","v":0.98,"d":3.8e-16},{"s":"D10","v":1.03,"d":4.4e-16},{"s":"D10","v":1.08,"d":4.8e-16},
  {"s":"D20","v":0.11,"d":7.1e-13},{"s":"D20","v":0.15,"d":5.6e-13},{"s":"D20","v":0.19,"d":4.8e-13},{"s":"D20","v":0.24,"d":4.0e-13},{"s":"D20","v":0.28,"d":3.5e-13},{"s":"D20","v":0.33,"d":2.75e-13},{"s":"D20","v":0.38,"d":2.1e-13},{"s":"D20","v":0.43,"d":1.48e-13},{"s":"D20","v":0.47,"d":1.05e-13},{"s":"D20","v":0.51,"d":7.1e-14},{"s":"D20","v":0.55,"d":5.2e-14},{"s":"D20","v":0.60,"d":3.8e-14},{"s":"D20","v":0.65,"d":2.4e-14},{"s":"D20","v":0.68,"d":1.41e-14},{"s":"D20","v":0.70,"d":6.3e-15},{"s":"D20","v":0.72,"d":2.51e-15},{"s":"D20","v":0.735,"d":6.3e-16},{"s":"D20","v":0.745,"d":1.26e-16},{"s":"D20","v":0.76,"d":7.9e-16},{"s":"D20","v":0.78,"d":1.26e-15},{"s":"D20","v":0.80,"d":8.9e-16},{"s":"D20","v":0.82,"d":5.0e-16},{"s":"D20","v":0.835,"d":1.58e-16},{"s":"D20","v":0.85,"d":7.9e-17},{"s":"D20","v":0.87,"d":6.3e-17},{"s":"D20","v":0.89,"d":1.0e-16},{"s":"D20","v":0.92,"d":1.41e-16},{"s":"D20","v":0.96,"d":1.66e-16},{"s":"D20","v":1.0,"d":1.9e-16},{"s":"D20","v":1.04,"d":2.0e-16},{"s":"D20","v":1.08,"d":2.1e-16},
  {"s":"D40","v":0.11,"d":5.0e-13},{"s":"D40","v":0.15,"d":4.0e-13},{"s":"D40","v":0.19,"d":3.3e-13},{"s":"D40","v":0.24,"d":2.75e-13},{"s":"D40","v":0.28,"d":2.4e-13},{"s":"D40","v":0.33,"d":1.9e-13},{"s":"D40","v":0.38,"d":1.41e-13},{"s":"D40","v":0.43,"d":1.0e-13},{"s":"D40","v":0.47,"d":7.1e-14},{"s":"D40","v":0.51,"d":4.8e-14},{"s":"D40","v":0.55,"d":3.55e-14},{"s":"D40","v":0.60,"d":2.51e-14},{"s":"D40","v":0.65,"d":1.58e-14},{"s":"D40","v":0.69,"d":7.9e-15},{"s":"D40","v":0.72,"d":3.16e-15},{"s":"D40","v":0.74,"d":1.26e-15},{"s":"D40","v":0.76,"d":7.9e-16},{"s":"D40","v":0.78,"d":1.0e-15},{"s":"D40","v":0.80,"d":6.3e-16},{"s":"D40","v":0.815,"d":3.16e-16},{"s":"D40","v":0.82,"d":4.0e-17},{"s":"D40","v":0.83,"d":1.26e-16},{"s":"D40","v":0.85,"d":5.0e-17},{"s":"D40","v":0.87,"d":3.16e-17},{"s":"D40","v":0.89,"d":5.0e-17},{"s":"D40","v":0.92,"d":7.9e-17},{"s":"D40","v":0.96,"d":1.0e-16},{"s":"D40","v":1.0,"d":1.05e-16},{"s":"D40","v":1.04,"d":1.12e-16},{"s":"D40","v":1.08,"d":1.15e-16},
  {"s":"D100","v":0.11,"d":2.9e-13},{"s":"D100","v":0.15,"d":2.24e-13},{"s":"D100","v":0.19,"d":1.9e-13},{"s":"D100","v":0.24,"d":1.58e-13},{"s":"D100","v":0.28,"d":1.32e-13},{"s":"D100","v":0.33,"d":1.05e-13},{"s":"D100","v":0.38,"d":7.6e-14},{"s":"D100","v":0.43,"d":5.2e-14},{"s":"D100","v":0.47,"d":3.55e-14},{"s":"D100","v":0.51,"d":2.4e-14},{"s":"D100","v":0.55,"d":1.74e-14},{"s":"D100","v":0.60,"d":1.2e-14},{"s":"D100","v":0.65,"d":7.6e-15},{"s":"D100","v":0.69,"d":4.0e-15},{"s":"D100","v":0.72,"d":2.0e-15},{"s":"D100","v":0.75,"d":1.0e-15},{"s":"D100","v":0.77,"d":6.3e-16},{"s":"D100","v":0.79,"d":7.9e-16},{"s":"D100","v":0.81,"d":3.16e-16},{"s":"D100","v":0.82,"d":3.16e-17},{"s":"D100","v":0.835,"d":1.0e-16},{"s":"D100","v":0.85,"d":2.51e-17},{"s":"D100","v":0.87,"d":2.0e-17},{"s":"D100","v":0.89,"d":3.16e-17},{"s":"D100","v":0.93,"d":4.0e-17},{"s":"D100","v":0.97,"d":4.47e-17},{"s":"D100","v":1.01,"d":4.8e-17},{"s":"D100","v":1.06,"d":4.9e-17},
  {"s":"D200","v":0.11,"d":8.9e-14},{"s":"D200","v":0.15,"d":6.3e-14},{"s":"D200","v":0.20,"d":5.0e-14},{"s":"D200","v":0.26,"d":4.0e-14},{"s":"D200","v":0.32,"d":2.8e-14},{"s":"D200","v":0.38,"d":1.9e-14},{"s":"D200","v":0.43,"d":1.26e-14},{"s":"D200","v":0.48,"d":7.9e-15},{"s":"D200","v":0.53,"d":5.0e-15},{"s":"D200","v":0.58,"d":3.16e-15},{"s":"D200","v":0.63,"d":2.0e-15},{"s":"D200","v":0.68,"d":1.12e-15},{"s":"D200","v":0.72,"d":7.1e-16},{"s":"D200","v":0.76,"d":5.0e-16},{"s":"D200","v":0.79,"d":4.0e-16},{"s":"D200","v":0.81,"d":2.0e-16},{"s":"D200","v":0.825,"d":2.51e-17},{"s":"D200","v":0.84,"d":6.3e-17},{"s":"D200","v":0.86,"d":2.0e-17},{"s":"D200","v":0.9,"d":2.8e-17},{"s":"D200","v":0.95,"d":2.8e-17},{"s":"D200","v":1.0,"d":2.51e-17},{"s":"D200","v":1.05,"d":2.51e-17},
  {"s":"D400","v":0.11,"d":2.9e-14},{"s":"D400","v":0.15,"d":2.24e-14},{"s":"D400","v":0.21,"d":1.66e-14},{"s":"D400","v":0.27,"d":1.41e-14},{"s":"D400","v":0.34,"d":1.17e-14},{"s":"D400","v":0.41,"d":9.3e-15},{"s":"D400","v":0.48,"d":5.6e-15},{"s":"D400","v":0.55,"d":3.4e-15},{"s":"D400","v":0.61,"d":2.14e-15},{"s":"D400","v":0.66,"d":1.41e-15},{"s":"D400","v":0.70,"d":1.07e-15},{"s":"D400","v":0.74,"d":8.9e-16},{"s":"D400","v":0.79,"d":5.75e-16},{"s":"D400","v":0.83,"d":3.16e-16},{"s":"D400","v":0.87,"d":1.58e-16},{"s":"D400","v":0.91,"d":8.9e-17},{"s":"D400","v":0.95,"d":4.47e-17},{"s":"D400","v":0.98,"d":2.51e-17},{"s":"D400","v":1.0,"d":1.78e-17},{"s":"D400","v":1.02,"d":1.32e-17}
 ],
 "leg": [
  {"s":"S2","lab":"2"},{"s":"S5","lab":"5"},{"s":"S10","lab":"10"},{"s":"S20","lab":"20"},{"s":"S40","lab":"40"},{"s":"S100","lab":"100"},{"s":"S200","lab":"200"},{"s":"S400","lab":"400"},
  {"s":"D2","lab":"2"},{"s":"D5","lab":"5"},{"s":"D10","lab":"10"},{"s":"D20","lab":"20"},{"s":"D40","lab":"40"},{"s":"D100","lab":"100"},{"s":"D200","lab":"200"},{"s":"D400","lab":"400"}
 ],
 "grp": [{"s":"S20","g":"Sodiation"},{"s":"D40","g":"Desodiation"}]
},
"spacing": 41,
"hconcat": [
 {"spacing": 4, "hconcat": [
 {"spacing": 7, "vconcat": [
  {"width": 263, "height": 275, "title": {"text": "a", "dx": -77},
   "layer": [
    {"data": {"name": "a"}, "mark": {"type": "line", "clip": true, "strokeWidth": 1.8},
     "encoding": {
      "x": {"field": "v", "type": "quantitative", "scale": {"domain": [0, 1.5], "nice": false},
        "axis": {"title": "Voltage (V)", "labelOverlap": false, "tickCount": 15, "labelExpr": "abs(datum.value*2 - round(datum.value*2)) < 0.01 ? format(datum.value, '.1f') : ''", "tickSize": {"condition": {"test": "abs(datum.value*2 - round(datum.value*2)) < 0.01", "value": -7}, "value": -4}}},
      "y": {"field": "d", "type": "quantitative", "scale": {"type": "log", "domain": [1e-20, 1e-12], "nice": false},
        "axis": {"title": "Diffusion Coefficient (cm² s⁻¹)", "labelOverlap": false, "tickCount": 40, "labelExpr": "abs(log(datum.value)/LN10 - round(log(datum.value)/LN10)) < 0.01 ? '10' + replace(replace(replace(replace(replace(replace(replace(replace(replace(replace(replace('' + round(log(datum.value)/LN10), '-', '⁻'), regexp('1','g'), '¹'), regexp('2','g'), '²'), regexp('3','g'), '³'), regexp('4','g'), '⁴'), regexp('5','g'), '⁵'), regexp('6','g'), '⁶'), regexp('7','g'), '⁷'), regexp('8','g'), '⁸'), regexp('9','g'), '⁹'), regexp('0','g'), '⁰') : ''", "tickSize": {"condition": {"test": "abs(log(datum.value)/LN10 - round(log(datum.value)/LN10)) < 0.01", "value": -7}, "value": -4}}},
      "color": {"field": "s", "type": "nominal", "scale": {"domain": ["S2","S5","S10","S20","S40","S100","S200","S400","D2","D5","D10","D20","D40","D100","D200","D400"], "range": ["#2c5c5c","#1e7676","#249e9e","#2cc6c6","#1de4e4","#3ef0f0","#72f5f5","#a8f9f9","#4a2e1e","#6e4426","#985b2b","#c36c22","#f5841f","#f9a152","#fbb77f","#fdd3aa"]}, "legend": null}
     }},
    {"data": {"values": [{"t": "Sb NCs", "v": 1.03, "d": 9e-14}]}, "mark": {"type": "text", "font": "Open Sans", "fontWeight": "bold", "fontSize": 27, "align": "center", "baseline": "middle"},
     "encoding": {"x": {"field": "v", "type": "quantitative"}, "y": {"field": "d", "type": "quantitative"}, "text": {"field": "t"}}}
   ]},
  {"width": 263, "height": 274, "title": {"text": "c", "dx": -77},
   "layer": [
    {"data": {"name": "c"}, "mark": {"type": "line", "clip": true, "strokeWidth": 1.8},
     "encoding": {
      "x": {"field": "v", "type": "quantitative", "scale": {"domain": [0, 1.5], "nice": false},
        "axis": {"title": "Voltage (V)", "labelOverlap": false, "tickCount": 15, "labelExpr": "abs(datum.value*2 - round(datum.value*2)) < 0.01 ? format(datum.value, '.1f') : ''", "tickSize": {"condition": {"test": "abs(datum.value*2 - round(datum.value*2)) < 0.01", "value": -7}, "value": -4}}},
      "y": {"field": "d", "type": "quantitative", "scale": {"type": "log", "domain": [1e-19, 1e-11], "nice": false},
        "axis": {"title": "Diffusion Coefficient (cm² s⁻¹)", "labelOverlap": false, "tickCount": 40, "labelExpr": "abs(log(datum.value)/LN10 - round(log(datum.value)/LN10)) < 0.01 ? '10' + replace(replace(replace(replace(replace(replace(replace(replace(replace(replace(replace('' + round(log(datum.value)/LN10), '-', '⁻'), regexp('1','g'), '¹'), regexp('2','g'), '²'), regexp('3','g'), '³'), regexp('4','g'), '⁴'), regexp('5','g'), '⁵'), regexp('6','g'), '⁶'), regexp('7','g'), '⁷'), regexp('8','g'), '⁸'), regexp('9','g'), '⁹'), regexp('0','g'), '⁰') : ''", "tickSize": {"condition": {"test": "abs(log(datum.value)/LN10 - round(log(datum.value)/LN10)) < 0.01", "value": -7}, "value": -4}}},
      "color": {"field": "s", "type": "nominal", "legend": null}
     }},
    {"data": {"values": [{"t": "Sb NPs", "v": 1.08, "d": 4.3e-13}]}, "mark": {"type": "text", "font": "Open Sans", "fontWeight": "bold", "fontSize": 27, "align": "center", "baseline": "middle"},
     "encoding": {"x": {"field": "v", "type": "quantitative"}, "y": {"field": "d", "type": "quantitative"}, "text": {"field": "t"}}}
   ]}
 ]},
 {"spacing": 7, "vconcat": [
  {"width": 265, "height": 275, "title": {"text": "b", "dx": -75},
   "layer": [
    {"data": {"name": "b"}, "mark": {"type": "line", "clip": true, "strokeWidth": 1.8},
     "encoding": {
      "x": {"field": "v", "type": "quantitative", "scale": {"domain": [0, 1.5], "nice": false},
        "axis": {"title": "Voltage (V)", "labelOverlap": false, "tickCount": 15, "labelExpr": "abs(datum.value*2 - round(datum.value*2)) < 0.01 ? format(datum.value, '.1f') : ''", "tickSize": {"condition": {"test": "abs(datum.value*2 - round(datum.value*2)) < 0.01", "value": -7}, "value": -4}}},
      "y": {"field": "d", "type": "quantitative", "scale": {"type": "log", "domain": [1e-20, 1e-12], "nice": false},
        "axis": {"title": "Diffusion Coefficient (cm² s⁻¹)", "labelOverlap": false, "tickCount": 40, "labelExpr": "abs(log(datum.value)/LN10 - round(log(datum.value)/LN10)) < 0.01 ? '10' + replace(replace(replace(replace(replace(replace(replace(replace(replace(replace(replace('' + round(log(datum.value)/LN10), '-', '⁻'), regexp('1','g'), '¹'), regexp('2','g'), '²'), regexp('3','g'), '³'), regexp('4','g'), '⁴'), regexp('5','g'), '⁵'), regexp('6','g'), '⁶'), regexp('7','g'), '⁷'), regexp('8','g'), '⁸'), regexp('9','g'), '⁹'), regexp('0','g'), '⁰') : ''", "tickSize": {"condition": {"test": "abs(log(datum.value)/LN10 - round(log(datum.value)/LN10)) < 0.01", "value": -7}, "value": -4}}},
      "color": {"field": "s", "type": "nominal", "legend": null}
     }},
    {"data": {"values": [{"t": "Sb NCs", "v": 1.1, "d": 8e-14}]}, "mark": {"type": "text", "font": "Open Sans", "fontWeight": "bold", "fontSize": 27, "align": "center", "baseline": "middle"},
     "encoding": {"x": {"field": "v", "type": "quantitative"}, "y": {"field": "d", "type": "quantitative"}, "text": {"field": "t"}}}
   ]},
  {"width": 264, "height": 274, "title": {"text": "d", "dx": -75},
   "layer": [
    {"data": {"name": "d"}, "mark": {"type": "line", "clip": true, "strokeWidth": 1.8},
     "encoding": {
      "x": {"field": "v", "type": "quantitative", "scale": {"domain": [0, 1.5], "nice": false},
        "axis": {"title": "Voltage (V)", "labelOverlap": false, "tickCount": 15, "labelExpr": "abs(datum.value*2 - round(datum.value*2)) < 0.01 ? format(datum.value, '.1f') : ''", "tickSize": {"condition": {"test": "abs(datum.value*2 - round(datum.value*2)) < 0.01", "value": -7}, "value": -4}}},
      "y": {"field": "d", "type": "quantitative", "scale": {"type": "log", "domain": [1e-19, 1e-11], "nice": false},
        "axis": {"title": "Diffusion Coefficient (cm² s⁻¹)", "labelOverlap": false, "tickCount": 40, "labelExpr": "abs(log(datum.value)/LN10 - round(log(datum.value)/LN10)) < 0.01 ? '10' + replace(replace(replace(replace(replace(replace(replace(replace(replace(replace(replace('' + round(log(datum.value)/LN10), '-', '⁻'), regexp('1','g'), '¹'), regexp('2','g'), '²'), regexp('3','g'), '³'), regexp('4','g'), '⁴'), regexp('5','g'), '⁵'), regexp('6','g'), '⁶'), regexp('7','g'), '⁷'), regexp('8','g'), '⁸'), regexp('9','g'), '⁹'), regexp('0','g'), '⁰') : ''", "tickSize": {"condition": {"test": "abs(log(datum.value)/LN10 - round(log(datum.value)/LN10)) < 0.01", "value": -7}, "value": -4}}},
      "color": {"field": "s", "type": "nominal", "legend": null}
     }},
    {"data": {"values": [{"t": "Sb NPs", "v": 1.11, "d": 4.9e-13}]}, "mark": {"type": "text", "font": "Open Sans", "fontWeight": "bold", "fontSize": 27, "align": "center", "baseline": "middle"},
     "encoding": {"x": {"field": "v", "type": "quantitative"}, "y": {"field": "d", "type": "quantitative"}, "text": {"field": "t"}}}
   ]}
 ]}
 ]},
 {"width": 127, "height": 338, "view": {"stroke": null},
  "title": {"text": "Cycle No.", "baseline": "alphabetic", "font": "Open Sans", "fontWeight": "bold", "fontSize": 27, "dx": 0, "dy": 27, "offset": 0},
  "layer": [
   {"data": {"name": "leg"}, "mark": {"type": "rule", "strokeWidth": 2.2},
    "encoding": {
     "y": {"field": "s", "type": "nominal", "sort": null, "scale": {"type": "point", "padding": 0.95, "domain": ["S2","S5","S10","S20","S40","S100","S200","S400","D2","D5","D10","D20","D40","D100","D200","D400"]}, "axis": null},
     "x": {"datum": 0.28, "type": "quantitative", "scale": {"domain": [0, 3], "nice": false, "zero": false}, "axis": null},
     "x2": {"datum": 1.3},
     "color": {"field": "s", "type": "nominal", "legend": null}
    }},
   {"data": {"name": "leg"}, "mark": {"type": "text", "align": "left", "baseline": "middle", "font": "Liberation Sans", "fontWeight": "bold", "fontSize": 16, "color": "#000"},
    "encoding": {
     "y": {"field": "s", "type": "nominal", "sort": null, "axis": null},
     "x": {"datum": 1.37, "type": "quantitative"},
     "text": {"field": "lab"}
    }},
   {"data": {"name": "grp"}, "transform": [{"filter": "datum.g == 'Sodiation'"}], "mark": {"type": "text", "angle": 270, "align": "center", "baseline": "middle", "font": "Open Sans", "fontSize": 24, "color": "#2ec9c9", "dx": -11},
    "encoding": {
     "y": {"field": "s", "type": "nominal", "sort": null, "axis": null},
     "x": {"datum": 2.48, "type": "quantitative"},
     "text": {"field": "g"}
    }},
   {"data": {"name": "grp"}, "transform": [{"filter": "datum.g == 'Desodiation'"}], "mark": {"type": "text", "angle": 270, "align": "center", "baseline": "middle", "font": "Open Sans", "fontSize": 24, "color": "#ff8a1c", "dx": 6},
    "encoding": {
     "y": {"field": "s", "type": "nominal", "sort": null, "axis": null},
     "x": {"datum": 2.48, "type": "quantitative"},
     "text": {"field": "g"}
    }}
  ]}
]
}
